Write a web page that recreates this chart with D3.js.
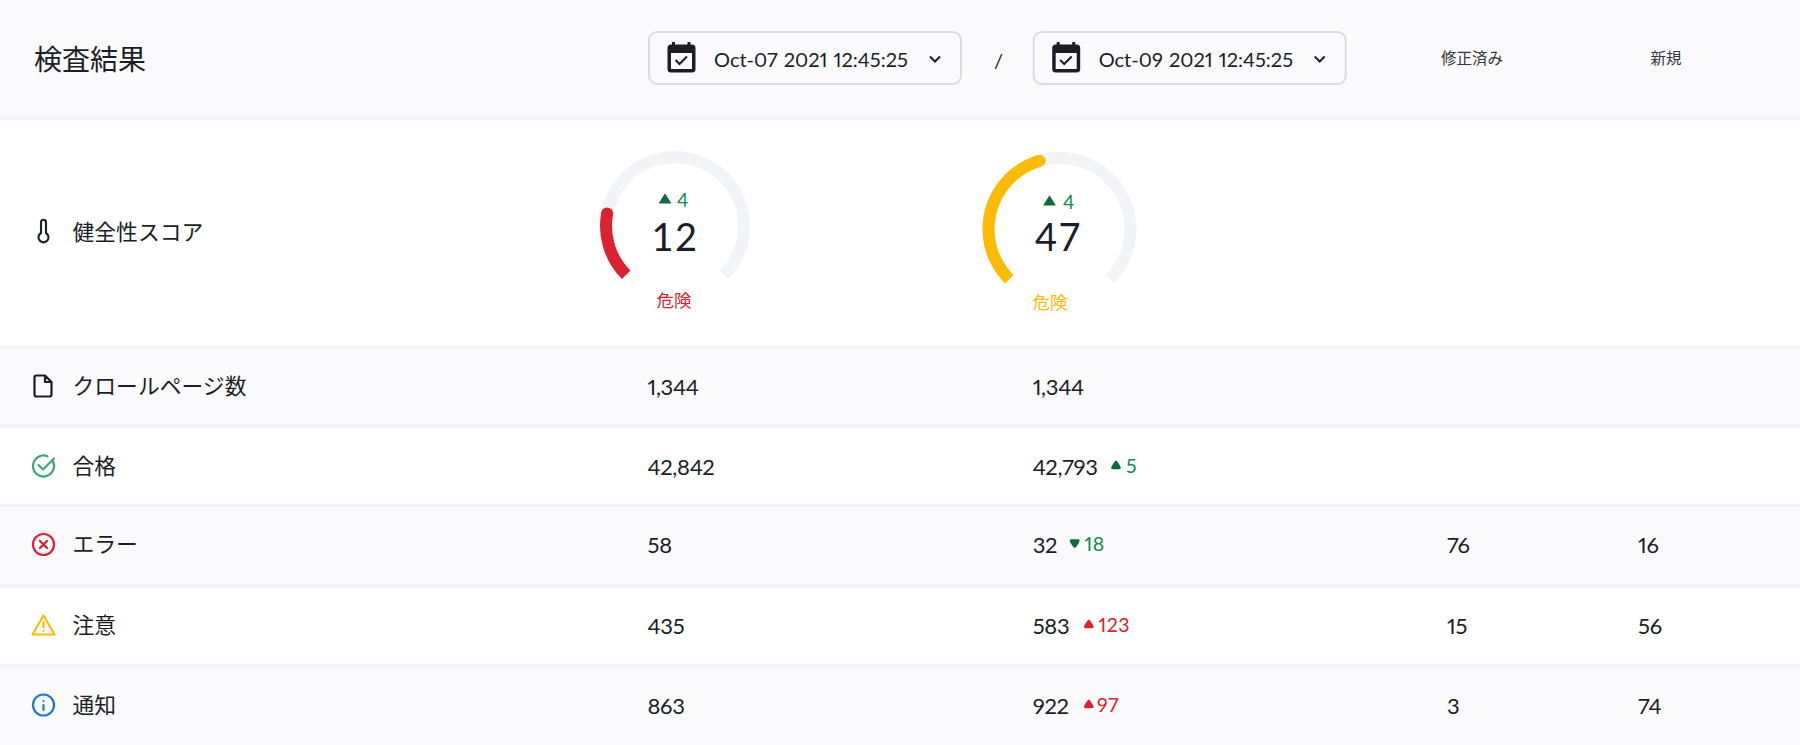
<!DOCTYPE html>
<html><head><meta charset="utf-8">
<script src="https://cdn.jsdelivr.net/npm/d3@7/dist/d3.min.js"></script>
<style>html,body{margin:0;padding:0;background:#fff;overflow:hidden}svg{display:block}
text{font-family:Lato,"Noto Sans CJK JP",sans-serif;fill:#1b1e25;font-variant-numeric:proportional-nums}</style></head><body>
<div id="chart"></div>
<script>
// ---------- data ----------
const title = "検査結果";
const dates = ["Oct-07 2021 12:45:25", "Oct-09 2021 12:45:25"];
const columnHeaders = ["修正済み", "新規"];
const rowLabels = ["クロールページ数", "合格", "エラー", "注意", "通知"];
const healthLabel = "健全性スコア";
const scores = ["12", "47"];
const scoreFill = [20.5, 44];           // share of the dial drawn
const scoreDelta = ["4", "4"];
const scoreStatus = ["危険", "危険"];
const firstValues = ["1,344", "42,842", "58", "435", "863"];
const secondValues = ["1,344", "42,793", "32", "583", "922"];
const deltaValues = [null, "5", "18", "123", "97"];
const deltaDirection = [null, "up", "down", "up", "up"];
const deltaGood = [null, true, true, false, false];
const fixedValues = [null, null, "76", "15", "3"];
const newValues = [null, null, "16", "56", "74"];

// ---------- layout ----------
const W = 1800, H = 745;
const C = {ink:"#1b1e25", band:"#fafafc", sep:"#f2f3f7", track:"#f1f3f7", red:"#dc2230", yellow:"#ffbb00",
  green:"#0e8a50", greenTri:"#0b6b3a", check:"#3aa67c", blue:"#1e78d8", box:"#dcdde3"};
const svg = d3.select("#chart").append("svg").attr("width", W).attr("height", H).attr("viewBox",`0 0 ${W} ${H}`);

const bandTops = [0,120,349,428,507,588,668];
const bandBots = [116,345,424,504,584,664,745];
const bandFill = [C.band,"#fff",C.band,"#fff",C.band,"#fff",C.band];
svg.append("rect").attr("width",W).attr("height",H).attr("fill",C.sep);
svg.selectAll("rect.band").data(bandTops).join("rect").attr("class","band")
  .attr("x",0).attr("width",W).attr("y",d=>d).attr("height",(d,i)=>bandBots[i]-d).attr("fill",(d,i)=>bandFill[i]);

const rowY = d3.scaleOrdinal(rowLabels,[386,466,544.5,625,705]);
const colX = d3.scaleOrdinal(["first","second","fixed","new"],[647.5,1032.7,1447,1638]);
const bodyFont = 22;

function label(x,y,t,size,color,anchor,extra){
  const s = svg.append("text").attr("x",x).attr("y",y).attr("dominant-baseline","central")
    .attr("font-size",size).text(t);
  if(color) s.style("fill",color);
  if(anchor) s.attr("text-anchor",anchor);
  if(extra) s.attr("letter-spacing",extra);
  return s;
}
function tri(x,y,dir,color,s,sharp){
  const k = dir==="up"?1:-1;
  svg.append("path").attr("transform",`translate(${x},${y}) scale(${s},${s*k})`)
    .attr("d",sharp?"M0,-5.2 L5.4,3.6 Q5.6,4 5,4 L-5,4 Q-5.6,4 -5.4,3.6 Z"
      :"M0,-5 C1,-5 5.3,1.5 5.3,3 Q5.3,4.5 3.5,4.5 L-3.5,4.5 Q-5.3,4.5 -5.3,3 C-5.3,1.5 -1,-5 0,-5 Z").attr("fill",color);
}

// ---------- header ----------
label(34,58.5,title,28);
const boxX = d3.scaleOrdinal([0,1],[colX("first")+1.5,colX("second")+1]);
dates.forEach((d,i)=>{
  const x = boxX(i);
  svg.append("rect").attr("x",x).attr("y",32).attr("width",312).attr("height",52).attr("rx",8)
    .attr("fill",C.band).attr("stroke",C.box).attr("stroke-width",2);
  const g = svg.append("g").attr("transform",`translate(${x+18.5},42)`);
  g.append("rect").attr("x",0).attr("y",2.5).attr("width",28).attr("height",28).attr("rx",3.5).attr("fill",C.ink);
  g.append("rect").attr("x",3.5).attr("y",11).attr("width",21).attr("height",16).attr("fill",C.band);
  g.append("rect").attr("x",4.5).attr("y",0).attr("width",3).attr("height",5).attr("fill",C.ink);
  g.append("rect").attr("x",20).attr("y",0).attr("width",3).attr("height",5).attr("fill",C.ink);
  g.append("path").attr("d","M8,18 L12,22 L19.5,14.5").attr("fill","none").attr("stroke",C.ink).attr("stroke-width",2);
  label(x+65,58.5,d,20).attr("word-spacing",1);
  svg.append("path").attr("d",`M${x+281},56.5 l5,5 l5,-5`).attr("fill","none").attr("stroke",C.ink).attr("stroke-width",2);
});
label(998.5,60,"/",20,null,"middle");
label(1472,58,columnHeaders[0],15.5,"#33363d","middle");
label(1666,58,columnHeaders[1],15.5,"#33363d","middle");

// ---------- gauges ----------
const dial = d3.scaleLinear([0,100],[-135,135].map(a=>a*Math.PI/180));
const gaugeLayout = [
  {cx:675,cy:226,r:75,  num:675,   tri:665,  dx:677,  dy:199, st:674,sty:300.5, color:C.red},
  {cx:1059.5,cy:229,r:77, num:1058.5,tri:1049.5,dx:1063,dy:201, st:1050,sty:302.5, color:C.yellow}];
scores.forEach((s,i)=>{
  const L = gaugeLayout[i], w=12;
  const g = svg.append("g").attr("transform",`translate(${L.cx},${L.cy})`);
  const arc = d3.arc().innerRadius(L.r-w).outerRadius(L.r);
  g.append("path").attr("d",arc({startAngle:dial(0),endAngle:dial(100)})).attr("fill",C.track);
  g.append("path").attr("d",arc({startAngle:dial(0),endAngle:dial(scoreFill[i])})).attr("fill",L.color);
  const a = dial(scoreFill[i]);
  g.append("circle").attr("cx",Math.sin(a)*(L.r-w/2)).attr("cy",-Math.cos(a)*(L.r-w/2)).attr("r",w/2).attr("fill",L.color);
  tri(L.tri,L.dy,"up",C.greenTri,1.12,true);
  label(L.dx,L.dy,scoreDelta[i],19,C.green);
  label(L.num,235.5,s,38,null,"middle","1.5").style("font-variant-numeric","tabular-nums");
  label(L.st,L.sty,scoreStatus[i],17.5,L.color,"middle");
});

// ---------- left labels + icons ----------
label(72.5,231,healthLabel,21.8);
rowLabels.forEach(r=>label(72.5,rowY(r)-1,r,21.8));
const ic = (x,y)=>svg.append("g").attr("transform",`translate(${x},${y})`).attr("fill","none").attr("stroke-width",2.2).attr("stroke-linecap","round").attr("stroke-linejoin","round");
// thermometer
ic(43.5,231).attr("stroke",C.ink).attr("stroke-width",2.1).append("path").attr("d","M-2.5,2 V-8.8 A2.5,2.5 0 0 1 2.5,-8.8 V2 A5,5 0 1 1 -2.5,2 Z");
// file
ic(43,rowY(rowLabels[0])).attr("stroke",C.ink).append("path").attr("d","M2,-10.5 H-6.5 A2,2 0 0 0 -8.5,-8.5 V8.5 A2,2 0 0 0 -6.5,10.5 H6.5 A2,2 0 0 0 8.5,8.5 V-4 Z M2,-10.5 V-4 H8.5");
// check
{const g=ic(43.5,rowY(rowLabels[1])).attr("stroke",C.check);
 g.append("path").attr("d","M9.5,-4.5 A10.5,10.5 0 1 1 4,-9.7");
 g.append("path").attr("d","M-5,-1 L-0.5,3.5 L10.5,-7.5");}
// error
{const g=ic(43.5,rowY(rowLabels[2])).attr("stroke",C.red);
 g.append("circle").attr("r",10.5);
 g.append("path").attr("d","M-3.5,-3.5 L3.5,3.5 M3.5,-3.5 L-3.5,3.5").attr("stroke-width",2.4);}
// warning
{const g=ic(43.5,rowY(rowLabels[3])).attr("stroke",C.yellow);
 g.append("path").attr("d","M0,-9.5 L11,9.5 H-11 Z");
 g.append("path").attr("d","M0,-3 V2.5 M0,6 V6.1");}
// info
{const g=ic(43.5,rowY(rowLabels[4])).attr("stroke",C.blue);
 g.append("circle").attr("r",10.5);
 g.append("path").attr("d","M0,-4 V-3.9 M0,0 V5");}

// ---------- table values ----------
const deltaTriX = [null,1116,1074.7,1088.8,1088.8];
const deltaTextX = [null,1126,1084.5,1098.5,1097];
rowLabels.forEach((r,i)=>{
  const y = rowY(r);
  label(colX("first"),y,firstValues[i],bodyFont).attr("letter-spacing",-0.3);
  label(colX("second"),y,secondValues[i],bodyFont).attr("letter-spacing",-0.3);
  if(deltaValues[i]!==null){
    const col = deltaGood[i]?C.green:C.red, tc = deltaGood[i]?C.greenTri:C.red;
    tri(deltaTriX[i],y-1,deltaDirection[i],tc,0.92);
    label(deltaTextX[i],y-1,deltaValues[i],19.5,col,null,"0.5");
  }
  if(fixedValues[i]!==null) label(colX("fixed"),y,fixedValues[i],bodyFont).attr("letter-spacing",-0.3);
  if(newValues[i]!==null) label(colX("new"),y,newValues[i],bodyFont).attr("letter-spacing",-0.3);
});
</script></body></html>
